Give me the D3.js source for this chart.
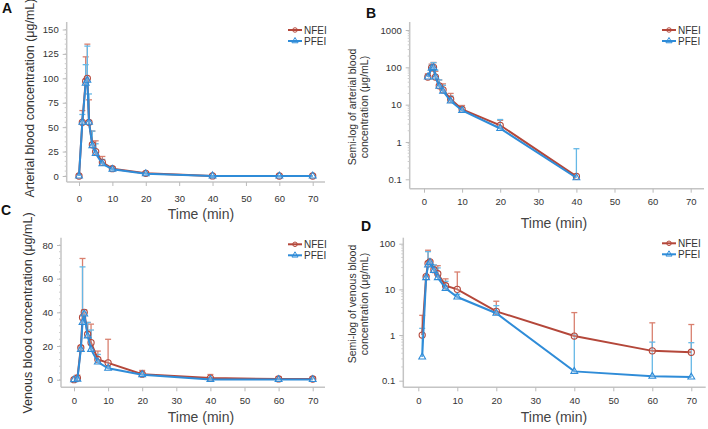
<!DOCTYPE html>
<html>
<head>
<meta charset="utf-8">
<script src="https://cdn.jsdelivr.net/npm/d3@7"></script>
<style>
  body { margin: 0; background: #fff; }
  svg { font-family: "Liberation Sans", Arial, sans-serif; }
</style>
</head>
<body>
<div id="graph"></div>
<script>
// sampling times (min)
var times = [0, 1, 2, 2.5, 3, 4, 5, 7, 10, 20, 40, 60, 70]

// arterial blood, mean and SD (ug/mL)
var artNFEI   = [0, 55, 97, 100, 55, 32, 25, 14, 7.5, 2.8, 0.12, 0, 0]
var artNFEIsd = [0, 12, 25, 35, 23, 14, 11, 6, 2, 1.0, 0, 0, 0]
var artPFEI   = [0, 55, 95, 98, 55, 31, 23, 12.5, 7, 2.3, 0.11, 0, 0]
var artPFEIsd = [0, 8, 19, 35, 29, 15, 10, 4.5, 1.5, 1.7, 0.55, 0, 0]

// venous blood, mean and SD (ug/mL)
var venNFEI   = [0, 1.0, 19, 37, 40, 27, 22, 12, 10, 3.3, 0.95, 0.45, 0.42]
var venNFEIsd = [0, 1.7, 1, 35, 1.5, 7, 11, 5, 14, 2.2, 2.15, 1.4, 1.28]
var venPFEI   = [0, 0.33, 18, 34, 39, 26, 18, 10.5, 6.8, 3.0, 0.16, 0.125, 0.12]
var venPFEIsd = [0, 1.07, 1, 33, 1, 8, 11.5, 4.5, 1, 1.4, 0.84, 0.575, 0.56]

var xTicks = [0, 10, 20, 30, 40, 50, 60, 70]
var linTicksA = [0, 25, 50, 75, 100, 125, 150]
var linTicksC = [0, 20, 40, 60, 80]
var logTicksB = [0.1, 1, 10, 100, 1000]
var logTicksD = [0.1, 1, 10, 100]
var seriesNames = ['NFEI', 'PFEI']

var colNFEI = '#b4473a', colNFEIerr = '#d9806f'
var colPFEI = '#2f8cd8', colPFEIerr = '#66b8e6'

var svg = d3.select('#graph').append('svg')
	.attr('width', 708)
	.attr('height', 429)

function series(mean, sd) {
	return times.map(function(t, i) { return { t: t, v: mean[i], sd: sd[i] } })
}

function drawPanel(p) {
	var g = svg.append('g')
	var x = d3.scaleLinear().domain([0, 70]).range([p.x0, p.x70])
	var y = p.log
		? d3.scaleLog().domain(p.yDom).range(p.yPx)
		: d3.scaleLinear().domain(p.yDom).range(p.yPx)

	// frame
	g.append('line').attr('x1', p.left).attr('x2', p.right)
		.attr('y1', p.bottom).attr('y2', p.bottom)
		.attr('stroke', '#c4c4c4').attr('stroke-width', 1.5)
	g.append('line').attr('x1', p.left).attr('x2', p.left)
		.attr('y1', p.top).attr('y2', p.bottom)
		.attr('stroke', '#c4c4c4').attr('stroke-width', 1.5)

	var xa = g.append('g').attr('transform', 'translate(0,' + p.bottom + ')')
		.call(d3.axisBottom(x).tickValues(xTicks).tickSize(4).tickPadding(p.xPad).tickFormat(d3.format('d')))
	xa.select('.domain').remove()
	xa.selectAll('line').attr('stroke', '#bbb')
	xa.selectAll('text').attr('fill', '#333').style('font-size', '9.5px')

	// minor y ticks
	var minors = []
	if (p.log) {
		for (var e = -1; e < p.yTicks.length - 2; e++) {
			for (var m = 2; m < 10; m++) minors.push(m * Math.pow(10, e))
		}
	} else {
		for (var v = 0; v <= p.yDom[1]; v += p.minorStep) minors.push(v)
	}
	g.selectAll('.minor').data(minors).enter().append('line')
		.attr('x1', p.left - 2).attr('x2', p.left)
		.attr('y1', function(d) { return y(d) }).attr('y2', function(d) { return y(d) })
		.attr('stroke', '#ccc')

	var ya = g.append('g').attr('transform', 'translate(' + p.left + ',0)')
		.call(d3.axisLeft(y).tickValues(p.yTicks).tickSize(4).tickPadding(4)
			.tickFormat(function(d) { return (d > 0 && d < 1) ? d3.format('.1f')(d) : d3.format('d')(d) }))
	ya.select('.domain').remove()
	ya.selectAll('line').attr('stroke', '#bbb')
	ya.selectAll('text').attr('fill', '#333').style('font-size', '9.5px')

	// data
	var data = [
		{ name: 'NFEI', pts: series(p.nMean, p.nSd), col: colNFEI, err: colNFEIerr, shape: d3.symbolCircle },
		{ name: 'PFEI', pts: series(p.pMean, p.pSd), col: colPFEI, err: colPFEIerr, shape: d3.symbolTriangle }
	]
	data.forEach(function(s) {
		var pts = p.log ? s.pts.filter(function(d) { return d.v > 0 }) : s.pts
		var bars = pts.filter(function(d) { return d.sd > 0 })
		g.selectAll(null).data(bars).enter().append('line')
			.attr('x1', function(d) { return x(d.t) }).attr('x2', function(d) { return x(d.t) })
			.attr('y1', function(d) { return y(d.v) }).attr('y2', function(d) { return y(d.v + d.sd) })
			.attr('stroke', s.err).attr('stroke-width', 1.3)
		g.selectAll(null).data(bars).enter().append('line')
			.attr('x1', function(d) { return x(d.t) - 3 }).attr('x2', function(d) { return x(d.t) + 3 })
			.attr('y1', function(d) { return y(d.v + d.sd) }).attr('y2', function(d) { return y(d.v + d.sd) })
			.attr('stroke', s.err).attr('stroke-width', 1.3)
		s.drawn = pts
	})
	data.forEach(function(s) {
		var line = d3.line().x(function(d) { return x(d.t) }).y(function(d) { return y(d.v) })
		g.append('path').datum(s.drawn).attr('d', line)
			.attr('fill', 'none').attr('stroke', s.col).attr('stroke-width', 2)
		g.selectAll(null).data(s.drawn).enter().append('path')
			.attr('d', d3.symbol().type(s.shape).size(s.name == 'NFEI' ? 30 : 20))
			.attr('transform', function(d) { return 'translate(' + x(d.t) + ',' + y(d.v) + ')' })
			.attr('fill', 'rgba(255,255,255,0.25)').attr('stroke', s.col).attr('stroke-width', 1.1)
	})

	// legend
	seriesNames.forEach(function(name, i) {
		var s = data[i]
		var ly = p.legY + i * 11
		g.append('line').attr('x1', p.legX).attr('x2', p.legX + 14)
			.attr('y1', ly).attr('y2', ly).attr('stroke', s.col).attr('stroke-width', 2)
		g.append('path').attr('d', d3.symbol().type(s.shape).size(16)())
			.attr('transform', 'translate(' + (p.legX + 7) + ',' + ly + ')')
			.attr('fill', 'none').attr('stroke', s.col)
		g.append('text').attr('x', p.legX + 16).attr('y', ly + 3.5)
			.text(name).style('font-size', '10px').attr('fill', '#333')
	})

	// axis titles
	g.append('text').attr('x', p.xLabX).attr('y', p.xLabY).attr('text-anchor', 'middle')
		.text('Time (min)').style('font-size', '14px').attr('fill', '#444')
	p.yLab.forEach(function(t, i) {
		g.append('text')
			.attr('transform', 'translate(' + p.yLabX[i] + ',' + p.yLabY + ') rotate(-90)')
			.attr('text-anchor', 'middle')
			.text(t).style('font-size', p.yLabSize + 'px').attr('fill', '#333')
	})
	g.append('text').attr('x', p.tagX).attr('y', p.tagY).text(p.tag)
		.style('font-size', '14px').style('font-weight', 'bold').attr('fill', '#111')
}

drawPanel({
	tag: 'A', tagX: 2, tagY: 13,
	x0: 79, x70: 312.7, left: 66.7, right: 325, top: 22, bottom: 182, xPad: 9,
	log: false, yDom: [0, 150], yPx: [176, 29.5], yTicks: linTicksA, minorStep: 5,
	nMean: artNFEI, nSd: artNFEIsd, pMean: artPFEI, pSd: artPFEIsd,
	legX: 288, legY: 30,
	xLabX: 201, xLabY: 219,
	yLab: ['Arterial blood concentration (\u03bcg/mL)'], yLabX: [34], yLabY: 98, yLabSize: 12.5
})
drawPanel({
	tag: 'B', tagX: 366, tagY: 18,
	x0: 424, x70: 690.7, left: 409.7, right: 704, top: 22, bottom: 188.7, xPad: 6,
	log: true, yDom: [0.1, 1000], yPx: [179.3, 30], yTicks: logTicksB,
	nMean: artNFEI, nSd: artNFEIsd, pMean: artPFEI, pSd: artPFEIsd,
	legX: 662, legY: 30,
	xLabX: 554, xLabY: 228,
	yLab: ['Semi-log of arterial blood', 'concentration (\u03bcg/mL)'], yLabX: [356, 368], yLabY: 107, yLabSize: 10.5
})
drawPanel({
	tag: 'C', tagX: 1, tagY: 215,
	x0: 74, x70: 312.7, left: 61, right: 325, top: 237.7, bottom: 387.3, xPad: 6,
	log: false, yDom: [0, 80], yPx: [379.7, 245], yTicks: linTicksC, minorStep: 4,
	nMean: venNFEI, nSd: venNFEIsd, pMean: venPFEI, pSd: venPFEIsd,
	legX: 288, legY: 244.3,
	xLabX: 201, xLabY: 422,
	yLab: ['Venous blood concentration (\u03bcg/mL)'], yLabX: [32], yLabY: 313, yLabSize: 12.5
})
drawPanel({
	tag: 'D', tagX: 361, tagY: 231,
	x0: 418.3, x70: 691.3, left: 403.3, right: 705.7, top: 237.7, bottom: 387.3, xPad: 6,
	log: true, yDom: [0.1, 100], yPx: [380.7, 243.7], yTicks: logTicksD,
	nMean: venNFEI, nSd: venNFEIsd, pMean: venPFEI, pSd: venPFEIsd,
	legX: 662, legY: 243.3,
	xLabX: 554, xLabY: 422,
	yLab: ['Semi-log of venous blood', 'concentration (\u03bcg/mL)'], yLabX: [356, 368], yLabY: 304, yLabSize: 10.5
})
</script>
</body>
</html>
